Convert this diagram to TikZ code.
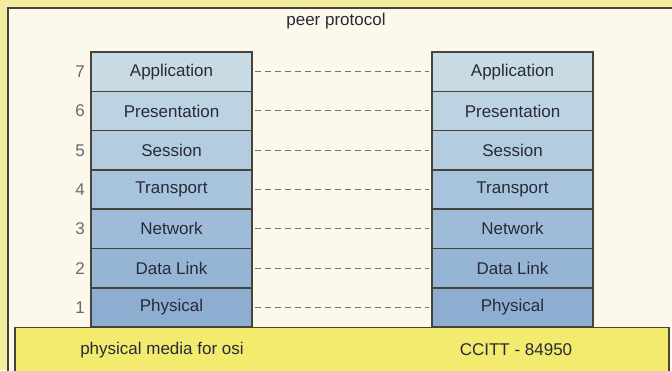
\documentclass[tikz,border=0pt]{standalone}
\usepackage{fontspec}
\setmainfont{Liberation Sans}
\usetikzlibrary{positioning}
\definecolor{outeryellow}{RGB}{243,236,160}
\definecolor{panelbg}{RGB}{252,249,236}
\definecolor{frameline}{RGB}{70,66,60}
\definecolor{mediayellow}{RGB}{242,235,110}
\definecolor{inktext}{RGB}{40,42,58}
\definecolor{numgray}{RGB}{105,105,110}
\definecolor{dashgray}{RGB}{110,110,115}
\definecolor{lay7}{RGB}{200,218,228}
\definecolor{lay6}{RGB}{190,211,226}
\definecolor{lay5}{RGB}{180,204,223}
\definecolor{lay4}{RGB}{168,196,220}
\definecolor{lay3}{RGB}{158,188,216}
\definecolor{lay2}{RGB}{150,181,213}
\definecolor{lay1}{RGB}{141,173,209}
\begin{document}
\begin{tikzpicture}[x=1pt,y=-1pt, every node/.style={font=\fontsize{17}{19}\selectfont,text=inktext},
  layer/.style={draw=frameline,line width=1.6pt,minimum width=161pt,minimum height=39.3pt,inner sep=0pt,outer sep=0pt},
  num/.style={text=numgray,anchor=east,inner sep=0pt},
  peer/.style={dashgray,line width=1pt,dash pattern=on 6pt off 4pt,shorten <=3pt,shorten >=3pt}]
\useasboundingbox (0,0) rectangle (672,370);
\clip (0,0) rectangle (672,370);
% backgrounds
\fill[outeryellow] (0,0) rectangle (672,370);
\filldraw[fill=panelbg,draw=frameline,line width=1.2pt] (8,8) rectangle (690,390);
\node (peerlabel) at (336,21) {peer protocol};
% two stacks
\foreach \s/\x in {L/91,R/432} {
  \node[layer,fill=lay7,anchor=north west] (\s7) at (\x,52) {Application};
  \node[layer,fill=lay6,below=0pt of \s7] (\s6) {Presentation};
  \node[layer,fill=lay5,below=0pt of \s6] (\s5) {Session};
  \node[layer,fill=lay4,below=0pt of \s5] (\s4) {Transport};
  \node[layer,fill=lay3,below=0pt of \s4] (\s3) {Network};
  \node[layer,fill=lay2,below=0pt of \s3] (\s2) {Data Link};
  \node[layer,fill=lay1,below=0pt of \s2] (\s1) {Physical};
}
\foreach \i in {1,...,7} {\node[num,left=6pt of L\i] (n\i) {\i};}
\foreach \i in {1,...,7} {\draw[peer] (L\i) -- (R\i);}
% physical media
\filldraw[fill=mediayellow,draw=frameline,line width=1.6pt] (15,327.5) rectangle (669,390);
\node (medialabel) at (162,350) {physical media for osi};
\node (ccitt) at (516,350) {CCITT - 84950};
\end{tikzpicture}
\end{document}
